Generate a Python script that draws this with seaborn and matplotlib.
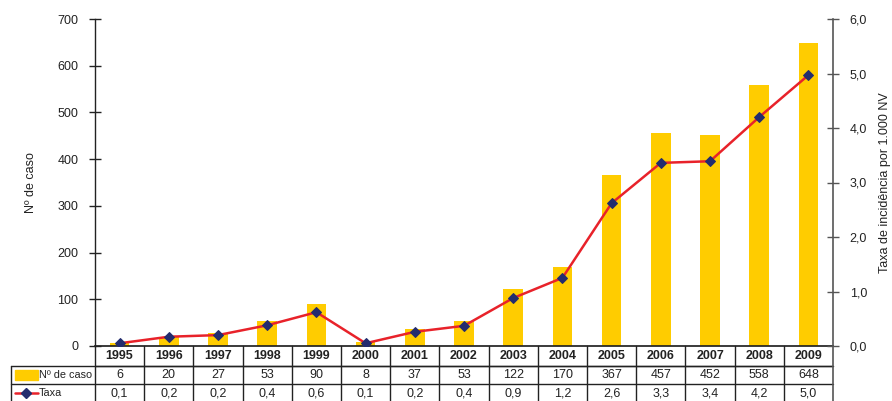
import matplotlib
matplotlib.use("Agg")
import matplotlib.pyplot as plt
import matplotlib.transforms as mtransforms
from matplotlib.patches import Rectangle
from matplotlib.lines import Line2D
import seaborn as sns
import numpy as np
import pandas as pd

years = ["1995", "1996", "1997", "1998", "1999", "2000", "2001", "2002",
         "2003", "2004", "2005", "2006", "2007", "2008", "2009"]
cases = [6, 20, 27, 53, 90, 8, 37, 53, 122, 170, 367, 457, 452, 558, 648]
rate = [0.05, 0.17, 0.2, 0.38, 0.62, 0.05, 0.26, 0.37, 0.88, 1.25, 2.62, 3.36, 3.39, 4.2, 4.97]
rate_labels = ["0,1", "0,2", "0,2", "0,4", "0,6", "0,1", "0,2", "0,4",
               "0,9", "1,2", "2,6", "3,3", "3,4", "4,2", "5,0"]

BAR = "#FFCC00"
LINE = "#E8222A"
MARK = "#232C6E"
DARK = "#222222"

sns.set_theme(style="white")
fams = ["Liberation Sans Narrow", "Liberation Sans", "DejaVu Sans"]
plt.rcParams["font.family"] = fams
plt.rcParams["font.size"] = 9

W, H = 892, 401
fig = plt.figure(figsize=(W / 100, H / 100), dpi=100)
L, R, T, B = 95, 833, 19, 346
ax = fig.add_axes([L / W, (H - B) / H, (R - L) / W, (B - T) / H])

def fx(px):
    return (px - L) / (R - L)

df = pd.DataFrame({"year": years, "cases": cases, "rate": rate})
sns.barplot(data=df, x="year", y="cases", color=BAR, width=0.4,
            saturation=1, ax=ax, edgecolor="none")
ax.set_ylim(0, 700)
ax.set_yticks(range(0, 701, 100))
ax.set_xlim(-0.5, len(years) - 0.5)
ax.set_xlabel("")
ax.set_xticks([])
ax.set_ylabel("Nº de caso", fontsize=9, color=DARK)
ax.yaxis.set_label_coords(fx(37), 0.5)
for s in ["top", "right"]:
    ax.spines[s].set_visible(False)
ax.spines["left"].set_color(DARK)
ax.spines["bottom"].set_color(DARK)
ax.spines["left"].set_linewidth(1)
ax.tick_params(axis="y", direction="inout", length=8, width=1, color=DARK,
               labelsize=9, labelcolor=DARK, pad=8)

ax2 = ax.twinx()
sns.lineplot(x=np.arange(len(years)), y=rate, ax=ax2, color=LINE, lw=1.8,
             marker="D", markersize=5.5, markerfacecolor=MARK,
             markeredgecolor=MARK)
ax2.set_ylim(0, 6)
ax2.set_yticks(np.arange(0, 6.1, 1))
ax2.set_yticklabels([f"{v:.1f}".replace(".", ",") for v in np.arange(0, 6.1, 1)])
ax2.set_xlim(-0.5, len(years) - 0.5)
for s in ["top", "left", "bottom"]:
    ax2.spines[s].set_visible(False)
ax2.spines["right"].set_color("#555555")
ax2.spines["right"].set_linewidth(1.2)
ax2.tick_params(axis="y", direction="inout", length=8, width=1, color="#555555",
                labelsize=9, labelcolor=DARK, pad=8)
ax2.set_ylabel("Taxa de incidência por 1.000 NV", fontsize=9, color=DARK)
ax2.yaxis.set_label_coords(fx(879), 0.5)

# table below
tr = mtransforms.blended_transform_factory(ax.transData, ax.transAxes)
ph = B - T
def fy(py):
    return (B - py) / ph

lw = 1.0
axf = ax.transAxes
ax.plot([-0.5, 14.5], [fy(366)] * 2, transform=tr, color=DARK, lw=lw, clip_on=False)
x_left = fx(11)
for py in [366, 384]:
    ax.plot([x_left, 1], [fy(py)] * 2, transform=axf, color=DARK, lw=lw, clip_on=False)
ax.plot([x_left, x_left], [fy(366), fy(402)], transform=axf, color=DARK, lw=lw, clip_on=False)
ax.plot([0, 0], [fy(346), fy(402)], transform=axf, color=DARK, lw=lw, clip_on=False)
ax.plot([1, 1], [fy(346), fy(402)], transform=axf, color="#555555", lw=1.2, clip_on=False)
for i in range(1, len(years)):
    ax.plot([i - 0.5, i - 0.5], [fy(346), fy(402)], transform=tr, color=DARK,
            lw=lw, clip_on=False)

for i, (yr, c, rl) in enumerate(zip(years, cases, rate_labels)):
    ax.text(i, fy(356), yr, transform=tr, ha="center", va="center",
            fontsize=9, fontweight="bold", color=DARK)
    ax.text(i, fy(375), str(c), transform=tr, ha="center", va="center",
            fontsize=9, color=DARK)
    ax.text(i, fy(393), rl, transform=tr, ha="center", va="center",
            fontsize=9, color=DARK)

ax.add_patch(Rectangle((fx(15), fy(380)), fx(38) - fx(15), fy(370) - fy(380),
                       transform=axf, color=BAR, clip_on=False))
ax.text(fx(39), fy(375), "Nº de caso", transform=axf, ha="left", va="center",
        fontsize=7.8, color=DARK)
ax.add_line(Line2D([fx(15), fx(38)], [fy(393)] * 2, transform=axf, color=LINE,
                   lw=1.8, clip_on=False))
ax.add_line(Line2D([fx(26)], [fy(393)], transform=axf, marker="D", markersize=5,
                   color=MARK, clip_on=False))
ax.text(fx(39), fy(393), "Taxa", transform=axf, ha="left", va="center",
        fontsize=7.8, color=DARK)

fig.savefig("out.png", dpi=100)
